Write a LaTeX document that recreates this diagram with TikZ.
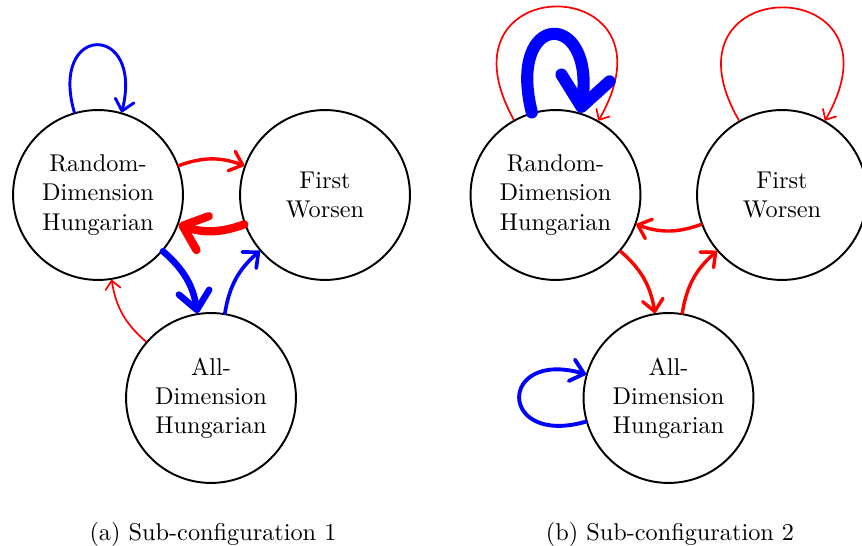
\documentclass[tikz,border=0pt]{standalone}
\usetikzlibrary{arrows.meta}
\begin{document}
\begin{tikzpicture}[x=0.412pt,y=0.412pt,
  state/.style={circle,draw,thick,minimum size=70pt,inner sep=0pt,align=center,font=\normalsize},
  arr/.style={-{Straight Barb[round,length=2pt 2,width=4pt 3.2]},line cap=round},
  caption/.style={anchor=base,inner sep=0pt}]
\useasboundingbox (0,0) rectangle (862,546);
% left panel
\node[state] (rdhA) at (98,351) {Random-\\Dimension\\Hungarian};
\node[state] (fwA) at (325,351) {First\\Worsen};
\node[state] (adhA) at (211,148) {All-\\Dimension\\Hungarian};
\draw[arr,blue,line width=1.2pt] (rdhA.106) .. controls +(106:93) and +(76:93) .. (rdhA.74);
\draw[arr,red,line width=1.4pt] (rdhA) to[bend left=20] (fwA);
\draw[arr,red,line width=3.4pt] (fwA) to[bend left=20] (rdhA);
\draw[arr,blue,line width=2.7pt] (rdhA) to[bend left=20] (adhA);
\draw[arr,blue,line width=1.5pt] (adhA) to[bend left=20] (fwA);
\draw[arr,red,line width=0.7pt] (adhA) to[bend left=20] (rdhA);
\node[caption] (capA) at (213,5) {(a) Sub-configuration 1};
% right panel
\node[state] (rdhB) at (555.5,351) {Random-\\Dimension\\Hungarian};
\node[state] (fwB) at (782,351) {First\\Worsen};
\node[state] (adhB) at (668.5,148) {All-\\Dimension\\Hungarian};
\draw[arr,red,line width=0.7pt] (rdhB.119) .. controls +(119:174) and +(60:174) .. (rdhB.60);
\draw[arr,blue,line width=5pt] (rdhB.106) .. controls +(104:105) and +(82:105) .. (rdhB.73);
\draw[arr,red,line width=0.7pt] (fwB.120) .. controls +(120:174) and +(60:174) .. (fwB.60);
\draw[arr,red,line width=1.4pt] (fwB) to[bend left=20] (rdhB);
\draw[arr,red,line width=1.4pt] (rdhB) to[bend left=20] (adhB);
\draw[arr,red,line width=1.4pt] (adhB) to[bend left=20] (fwB);
\draw[arr,blue,line width=1.6pt] (adhB.196) .. controls +(196:92) and +(164:92) .. (adhB.164);
\node[caption] (capB) at (670,5) {(b) Sub-configuration 2};
\end{tikzpicture}
\end{document}
